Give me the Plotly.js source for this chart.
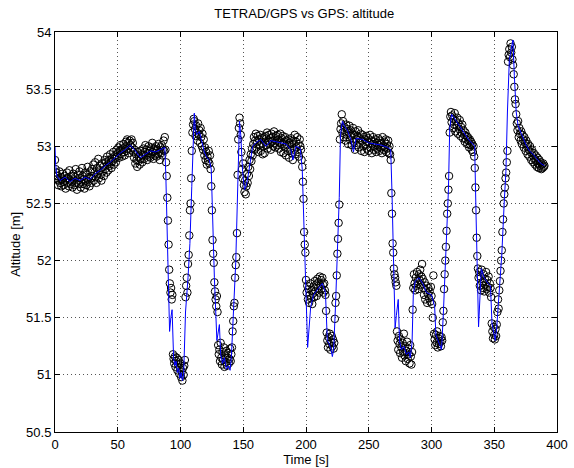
<!DOCTYPE html>
<html>
<head>
<meta charset="utf-8">
<script src="https://cdn.plot.ly/plotly-3.0.1.min.js"></script>
<style>html,body{margin:0;padding:0;background:#fff;}#chart{width:574px;height:468px;}</style>
</head>
<body>
<div id="chart"></div>
<script>
// TETRAD/GPS altitude samples (2 Hz), stored per phase with their start time [s]
const sampleStep = 0.5;
const tetradStart1 = 0;
const tetradAlt1 = [
52.88,52.80,52.77,52.71,52.74,52.66,52.70,52.78,52.68,52.73,52.65,52.71,52.76,52.69,52.66,52.74,52.70,52.63,52.72,52.77,
52.68,52.72,52.65,52.79,52.70,52.67,52.74,52.69,52.64,52.76,52.71,52.66,52.73,52.80,52.68,52.62,52.75,52.70,52.67,52.78,
52.72,52.64,52.69,52.81,52.74,52.67,52.71,52.63,52.77,52.70,52.66,52.75,52.82,52.69,52.73,52.65,52.78,52.72,52.68,52.80,
52.74,52.84,52.70,52.77,52.86,52.73,52.68,52.81,52.76,52.89,52.72,52.79,52.83,52.75,52.70,52.85,52.78,52.82,52.74,52.88,
52.80,52.86,52.77,52.91,52.84,52.79,52.88,52.83,52.93,52.86,52.81,52.90,52.87,52.95,52.84,52.89,52.92,52.86,52.97,52.91,
52.94,52.99,52.90,52.96,53.01,52.93,52.97,52.91,52.98,53.02,52.95,52.92,52.99,53.04,52.96,53.06,52.98,53.03,52.94,53.05,
53.01,52.97,53.06,52.99,53.03,52.95,52.90,52.97,52.85,52.93,52.88,52.82,52.95,52.87,52.91,52.84,52.96,52.89,52.93,52.86,
52.92,52.98,52.89,52.95,53.01,52.92,52.97,52.88,52.94,53.00,52.91,52.96,52.90,52.99,52.93,53.03,52.95,52.89,52.98,52.92,
52.96,53.00,52.91,52.97,52.93,53.02,52.95,52.88,52.99,52.94,53.01,52.92,52.97,53.05,52.96,53.08];
const tetradStart2 = 88;
const tetradAlt2 = [
52.97,52.86,52.74,52.55,52.35,52.14,51.92,51.80,51.72,51.76,51.66,51.70,
51.18,51.14,51.10,51.16,51.07,51.12,51.15,51.04,51.09,51.13,51.01,51.06,51.10,50.98,51.03,50.95,51.06,51.00,51.08,51.13,
51.68,51.78,51.85,51.72,51.97,52.05,52.22,52.44,52.50,52.72,52.96,53.12,53.19,53.24];
const tetradStart3 = 111;
const tetradAlt3 = [
53.22,53.15,53.09,53.18,53.12,53.05,53.20,53.10,53.14,53.03,53.16,53.08,53.00,53.11,52.97,53.06,52.92,52.99,52.88,52.95,52.84,52.91,52.87,52.96,52.85,52.92,
52.80,52.65,52.44,52.18,52.06,51.98,51.81,51.73,51.66,51.60,51.69,51.55,
51.26,51.18,51.22,51.12,51.28,51.15,51.09,51.20,51.13,51.24,51.07,51.17,51.11,51.21,51.08,51.15,51.19,51.10,51.14,51.23,51.12,51.18,
51.24,51.38,51.47,51.60,51.63,51.85,51.96,52.03,52.24,52.75,53.06,53.16,53.25,53.20,53.10,
52.95,52.80,52.72,52.85,52.66,52.60,52.70,52.58,52.65,52.76,52.68,52.82,52.74,52.88,52.80,52.93,52.87,52.98,52.92];
const tetradStart4 = 158;
const tetradAlt4 = [
53.02,53.08,52.97,53.05,53.11,52.99,53.04,53.09,52.95,53.06,53.01,53.10,52.96,53.03,53.07,52.93,53.00,53.08,52.94,53.04,
53.09,53.01,53.12,52.98,53.05,53.10,53.02,53.07,52.97,53.11,53.04,53.08,53.00,53.13,53.03,52.99,53.09,53.05,53.01,53.10,
53.06,52.98,53.03,53.11,52.95,53.07,53.02,53.09,52.94,53.04,52.99,53.08,52.92,53.05,53.01,52.96,53.06,52.90,53.03,52.98,
53.07,52.94,53.02,52.88,53.05,52.97,53.10,52.93,53.04,52.99,53.08,52.95,53.02,52.91,53.06,53.00];
const tetradStart5 = 196;
const tetradAlt5 = [
52.97,52.88,52.82,52.69,52.54,52.25,52.14,52.07,51.83,
51.72,51.78,51.66,51.75,51.63,51.70,51.80,51.67,51.74,51.62,51.71,51.77,51.68,51.82,51.73,51.79,51.69,51.84,51.76,51.81,
51.72,51.86,51.78,51.83,51.75,51.85,51.79,51.72,51.80,51.74,51.70,
51.56,51.37,
51.30,51.24,51.33,51.27,51.36,51.22,51.29,51.34,51.25,51.31,51.23,51.28,
51.49,51.63,51.69,51.87,52.06,52.19,52.33,52.49,53.06,53.15,53.20];
const tetradStart6 = 228.5;
const tetradAlt6 = [
53.28,53.12,53.22,53.08,53.17,53.13,53.05,53.19,53.10,53.15,53.02,53.12,53.18,53.06,53.14,53.09,53.01,53.11,53.16,
53.04,53.10,52.97,53.13,53.06,53.01,53.09,53.14,52.99,53.07,53.03,53.11,52.96,53.05,53.10,53.00,53.08,52.95,53.06,53.02,
53.09,52.98,53.04,53.07,52.96,53.03,53.10,52.99,53.05,52.94,53.02,53.08,52.97,53.04,53.00,53.06,52.95,53.03,52.98,53.07,
53.01,52.96,53.05,52.99,53.03,52.94,53.08,53.00,52.97,53.04,52.99,53.06,52.95,53.02,52.98,53.05,52.94,53.00];
const tetradStart7 = 267;
const tetradAlt7 = [
52.93,52.88,52.59,52.41,52.15,52.07,51.93,51.88,51.85,51.81,51.78,
51.38,51.30,51.22,51.34,51.27,51.19,51.31,51.24,51.15,51.28,51.20,51.36,51.17,51.25,51.12,51.21,51.29,51.14,51.23,51.18,51.10,51.26,51.16,51.09,51.20,
51.57,51.76,51.88,
51.80,51.74,51.85,51.78,51.90,51.82,51.75,51.88,51.83,51.92,51.79,51.86,51.97,51.84,51.76,51.70,51.81,51.66,51.74,51.78,51.63,51.71,51.76,51.67,51.73,51.64,51.77,51.69,
51.62,51.50,51.87,51.36,
51.31,51.26,51.35,51.28,51.38,51.24,51.32,51.27,51.34,51.29,51.25,51.33,51.30,
51.46,51.56,51.75,51.88,52.00,52.12,52.26,52.41,52.50,52.62,52.74,53.12,53.26];
const tetradStart8 = 315.5;
const tetradAlt8 = [
53.30,53.21,53.27,53.16,53.24,53.19,53.29,53.13,53.22,53.18,53.25,53.11,53.20,53.15,53.23,53.09,53.17,53.12,53.19,
53.07,53.14,53.10,53.04,53.12,53.06,53.09,53.02,53.08,53.05,52.99,53.06,53.01,53.04,52.97,53.02,52.95,53.00,
52.91,52.81,52.64,52.44,52.20,52.04,51.93,51.85];
const tetradStart9 = 338;
const tetradAlt9 = [
51.90,51.78,51.86,51.74,51.92,51.81,51.76,51.88,51.73,51.84,51.79,51.90,51.75,51.83,51.77,51.86,51.72,51.80,51.76,51.68,
51.45,51.38,51.32,51.42,51.35,51.31,51.40,51.34,51.44,
51.55,51.66,51.58,51.74,51.82,51.91,52.00,52.09,52.25,52.36,52.50,52.58,52.64,52.72,52.77,52.86,52.96,
53.74,53.80,53.85,53.78,53.90,53.82,53.87,53.76,53.71,53.63,53.52,53.41,53.37,53.28];
const tetradStart10 = 368;
const tetradAlt10 = [
53.20,53.14,53.22,53.08,53.16,53.11,53.05,53.13,53.02,53.10,53.06,52.99,53.08,53.03,52.96,53.05,53.00,52.93,53.02,52.97,
52.91,53.00,52.95,52.88,52.97,52.92,52.86,52.94,52.89,52.84,52.92,52.87,52.82,52.90,52.85,52.81,52.88,52.83,52.86,52.80,
52.84,52.81,52.85,52.82,52.83];

// GPS altitude line vertices
const gpsTime = [0,0.5,1.5,4,8,12,16,20,24,28,32,36,40,44,48,52,56,60,64,68,72,76,80,84,87.5,
88.3,89.3,90.3,91.3,92.3,93.3,94.5,95.5,96.5,97.5,98.5,99.5,100.5,101.5,102.5,104,106,107.5,109,110.3,111,
111.8,113,115,117,119,121,123,124.5,125.5,127,129,130,131,132,133.5,135,136.5,138,139.5,140.5,142,144,145.5,147,
148,149.5,151,152.5,154,156,157.5,160,164,168,172,176,180,184,188,189.6,192,195.5,197,199,200.3,201.3,203.7,
206,210,213,215.5,217,218.5,220,221,222,223.5,225,226.5,227.5,229,230.5,233,236,237.8,240,245,250,255,260,265,
267.5,268.5,269.5,271,272,273.5,274.5,276,278,280,282,283,284.5,285.5,287,290,293,296,300,302.5,303.5,305,306.5,
308,309.5,311,312.5,313.5,314.5,316,318,321,324,327,330,333,334.4,335.5,336.5,337.5,339.7,342,345,347,348.2,349.5,
350.8,352,354,356,358,359.3,360.5,362,363.5,364.9,366,367.5,369,372,375,378,381,384,387,390];
const gpsAlt = [53.00,52.84,52.74,52.70,52.73,52.69,52.72,52.70,52.73,52.71,52.76,52.79,52.83,52.86,52.90,52.94,52.97,53.01,52.96,52.90,52.93,52.96,52.95,52.97,52.99,
52.75,52.30,51.85,51.38,51.50,51.57,51.15,51.08,51.12,51.02,51.06,50.97,51.02,50.95,51.00,51.55,51.85,52.15,52.65,53.05,53.29,
53.15,53.10,53.13,53.05,52.95,52.90,52.88,52.80,52.40,51.85,51.30,51.36,51.44,51.18,51.10,51.15,51.05,51.08,51.04,51.15,51.50,51.98,52.60,53.22,
53.10,52.78,52.62,52.66,52.75,52.90,53.00,53.03,53.06,53.00,53.05,53.04,53.03,53.02,52.97,52.88,53.00,52.98,52.80,52.15,51.60,51.24,51.59,
51.70,51.76,51.80,51.72,51.30,51.27,51.22,51.16,51.22,51.60,52.05,52.55,53.10,53.22,53.18,53.14,53.05,52.95,53.07,53.06,53.03,53.02,53.01,52.99,
52.97,52.60,52.05,51.41,51.52,51.66,51.30,51.22,51.25,51.18,51.20,51.15,51.28,51.70,51.82,51.85,51.80,51.72,51.70,51.60,51.35,51.30,51.27,
51.22,51.55,52.00,52.45,52.62,53.15,53.28,53.25,53.20,53.15,53.10,53.05,53.02,53.00,52.40,51.85,51.42,51.93,51.85,51.80,51.78,51.45,51.36,
51.30,51.42,51.75,52.05,52.52,52.78,53.30,53.75,53.85,53.93,53.62,53.30,53.18,53.10,53.02,52.96,52.93,52.89,52.85,52.83];

// Axis ticks
const xTicks = [0,50,100,150,200,250,300,350,400];
const yTicks = [50.5,51,51.5,52,52.5,53,53.5,54];

const phases = [
  [tetradStart1, tetradAlt1],[tetradStart2, tetradAlt2],[tetradStart3, tetradAlt3],[tetradStart4, tetradAlt4],
  [tetradStart5, tetradAlt5],[tetradStart6, tetradAlt6],[tetradStart7, tetradAlt7],[tetradStart8, tetradAlt8],
  [tetradStart9, tetradAlt9],[tetradStart10, tetradAlt10]];
const tetradT = [], tetradV = [];
phases.forEach(([s, arr]) => arr.forEach((v, i) => { tetradT.push(s + i * sampleStep); tetradV.push(v); }));

const font = {family: 'Liberation Sans, Arial, sans-serif', size: 13, color: '#000'};
const axisCommon = {
  showline: true, linecolor: '#000', linewidth: 1, mirror: 'allticks',
  ticks: 'inside', ticklen: 5, tickcolor: '#000', tickwidth: 1,
  showgrid: true, gridcolor: '#555', griddash: '1px,3px', gridwidth: 1,
  zeroline: false, tickfont: font
};

const data = [
  {x: tetradT, y: tetradV, type: 'scatter', mode: 'markers',
   marker: {symbol: 'circle-open', size: 7.5, color: '#000', line: {width: 1, color: '#000'}},
   hoverinfo: 'skip', showlegend: false},
  {x: gpsTime, y: gpsAlt, type: 'scatter', mode: 'lines',
   line: {color: '#0000ff', width: 1}, hoverinfo: 'skip', showlegend: false}
];

const layout = {
  width: 574, height: 468,
  margin: {l: 55, r: 17, t: 32, b: 36},
  paper_bgcolor: '#fff', plot_bgcolor: '#fff',
  font: font,
  title: {text: 'TETRAD/GPS vs GPS: altitude', font: {family: font.family, size: 13, color: '#000'},
          x: 0.53, xanchor: 'center', y: 0.972, yanchor: 'middle'},
  xaxis: Object.assign({}, axisCommon, {range: [0, 400], tickvals: xTicks, ticktext: xTicks.map(String),
          title: {text: 'Time [s]', font: font, standoff: 0}, automargin: false}),
  yaxis: Object.assign({}, axisCommon, {range: [50.5, 54], tickvals: yTicks, ticktext: yTicks.map(String),
          automargin: false}),
  annotations: [{text: 'Altitude [m]', textangle: -90, xref: 'paper', yref: 'paper',
                 x: -0.08, y: 0.47, xanchor: 'center', yanchor: 'middle', showarrow: false, font: font}]
};

Plotly.newPlot('chart', data, layout, {displayModeBar: false, staticPlot: true});
</script>
</body>
</html>
